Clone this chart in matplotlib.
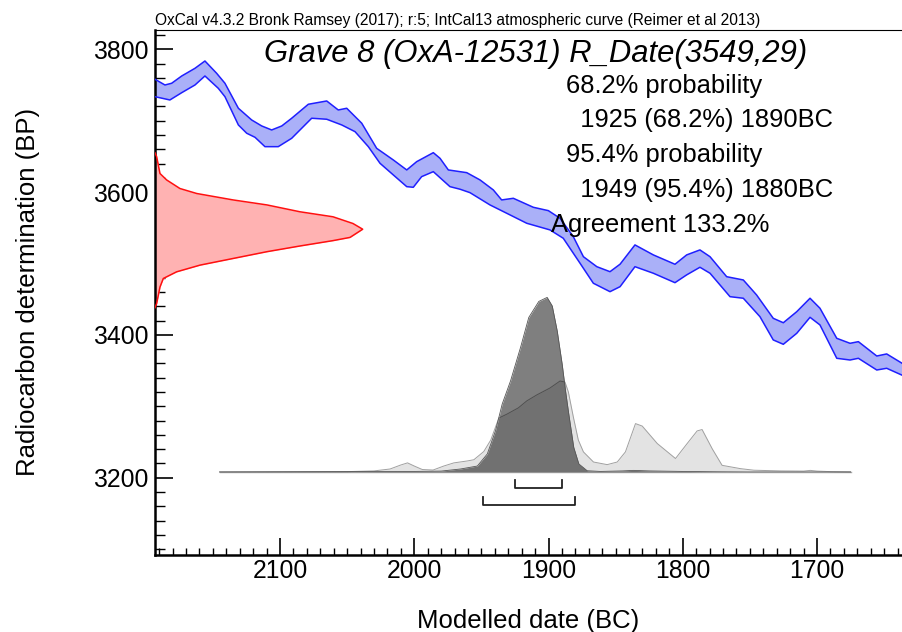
import numpy as np
import matplotlib
matplotlib.use("Agg")
import matplotlib.pyplot as plt
from matplotlib.ticker import MultipleLocator

plt.rcParams['font.family'] = ['Liberation Sans', 'DejaVu Sans']

# calibration curve (IntCal13): upper and lower edge of the band, year BC vs. BP
up_year = [2193.1, 2185.7, 2180.7, 2173.2, 2163.3, 2155.9, 2147.2, 2141, 2131, 2121.1,
           2113.6, 2106.2, 2098.7, 2091.3, 2078.9, 2065.2, 2056.6, 2050.3, 2039.1, 2028,
           2015.6, 2005.6, 1998.2, 1985.8, 1980.8, 1974.6, 1960.9, 1951, 1941.1, 1934.9,
           1926.2, 1911.3, 1900.1, 1891.4, 1881.5, 1874, 1864, 1854.2, 1846.7, 1835.6,
           1821.9, 1805.8, 1797.1, 1787.2, 1779.7, 1767.3, 1754.9, 1745, 1732.6, 1725.1,
           1715.1, 1705.2, 1697.8, 1685.3, 1675.4, 1669.2, 1655.5, 1648.1, 1636]
up_bp = [3758, 3750, 3752.4, 3762.6, 3773.4, 3783.6, 3766.4, 3752.4, 3717.4, 3701,
         3692.6, 3687, 3692.6, 3703.4, 3723, 3727.6, 3715, 3717.4, 3696.4, 3661.3,
         3645, 3631, 3642.6, 3655.2, 3647.3, 3631, 3627.2, 3617, 3603, 3589,
         3591.3, 3578.7, 3574, 3563.3, 3537.5, 3509.5, 3495.5, 3488.5, 3499, 3526,
         3512, 3498.9, 3512, 3519, 3509.5, 3481.5, 3476.9, 3455.9, 3423.2, 3417,
         3432.5, 3451.3, 3437.3, 3395.2, 3388.2, 3390.5, 3370.4, 3373.3, 3359.5]
lo_year = [2193.1, 2182, 2173.2, 2163.3, 2155.9, 2146, 2141, 2131, 2124.8, 2118.6,
           2111.2, 2101.3, 2091.3, 2076.4, 2065.2, 2054, 2044.1, 2034.2, 2025.5, 2015.6,
           2005.6, 2000.7, 1994.5, 1985.8, 1973.4, 1965.9, 1958.5, 1943.6, 1931.1, 1916.2,
           1898.9, 1889, 1876.5, 1866.6, 1854.2, 1846.7, 1835.6, 1821.9, 1805.8, 1797.1,
           1787.2, 1779.7, 1764.8, 1754.9, 1742.5, 1732.6, 1725.1, 1715.1, 1705.2, 1697.8,
           1685.3, 1675.4, 1669.2, 1655.5, 1648.1, 1636]
lo_bp = [3733.6, 3729, 3739.2, 3750, 3762.6, 3745.4, 3733.6, 3694, 3682.4, 3676.7,
         3663.6, 3663.6, 3675.3, 3703.4, 3702, 3694, 3684.6, 3663.6, 3640.3, 3624,
         3607.6, 3606.7, 3621.6, 3628.6, 3607.6, 3604, 3599.2, 3582, 3570.3, 3556.3,
         3547, 3535.3, 3500.3, 3472.3, 3460.5, 3467.5, 3495.5, 3486.3, 3473.1, 3484,
         3494.7, 3486.3, 3453.5, 3451.3, 3425.5, 3392.9, 3386.8, 3402.2, 3424.6, 3413.9,
         3367.2, 3364.8, 3367.2, 3350.8, 3353.2, 3343]

# radiocarbon measurement R_Date(3549,29), relative probability
r_bp = [3655, 3649.5, 3626, 3617, 3605, 3598, 3589, 3582, 3572.4, 3565.4, 3556, 3548,
        3536.5, 3532, 3524.5, 3516.5, 3507, 3497.7, 3488.3, 3479, 3467, 3444, 3438]
r_prob = [0, .008, .024, .056, .120, .201, .376, .539, .698, .857, .953, 1.0,
          .939, .857, .698, .539, .376, .217, .104, .040, .024, .008, 0]

# unmodelled (light) and modelled (dark) calendar distributions
light_year = [2145, 2050, 2030, 2018, 2010, 2005, 2000, 1994, 1986, 1978, 1970.5, 1960.5,
              1955.6, 1948.2, 1943, 1937, 1930.8, 1922.5, 1916.2, 1908.8, 1898.9, 1891.4,
              1887.7, 1885.2, 1881.5, 1877.8, 1874, 1866.5, 1856.3, 1848.8, 1842.7, 1835.2,
              1830.2, 1819, 1805.4, 1796.7, 1789.3, 1785.6, 1778, 1770.7, 1757, 1747,
              1727, 1710, 1705, 1700, 1690, 1675]
light_prob = [0, .002, .006, .017, .040, .052, .034, .014, .011, .034, .052, .063,
              .070, .117, .183, .309, .332, .367, .407, .441, .481, .521,
              .515, .458, .315, .183, .115, .057, .042, .057, .115, .277,
              .263, .163, .077, .163, .235, .243, .132, .038, .019, .010,
              .006, .005, .009, .005, .002, 0]
dark_year = [2145, 2050, 2000, 1980, 1965.5, 1953, 1945.6, 1939.5, 1934.5, 1928.3, 1920.8,
             1914.7, 1907.2, 1901, 1897.2, 1893.5, 1889.8, 1887.3, 1884.9, 1881.2, 1877.4,
             1871.2, 1861.3, 1845, 1836.7, 1825, 1800, 1772, 1750, 1675]
dark_prob = [0, .002, .003, .005, .017, .034, .103, .235, .389, .521, .714,
             .885, .977, 1.0, .951, .808, .617, .464, .332, .141, .046,
             .007, .003, .006, .009, .006, .003, .001, 0, 0]

# highest probability ranges (BC)
range68 = [1925, 1890]
range95 = [1949, 1880]

header = "OxCal v4.3.2 Bronk Ramsey (2017); r:5; IntCal13 atmospheric curve (Reimer et al 2013)"
title = "Grave 8 (OxA-12531) R_Date(3549,29)"
info = ["68.2% probability", "  1925 (68.2%) 1890BC", "95.4% probability",
        "  1949 (95.4%) 1880BC", "Agreement 133.2%"]

W, H = 902, 632
fig = plt.figure(figsize=(W / 100, H / 100), dpi=100)
ax = fig.add_axes([155 / W, (H - 555) / H, (W - 155) / W, (555 - 30) / H])

xl = (2193.1, 1636.7)
ax.set_xlim(*xl)
ax.set_ylim(3091.7, 3827)

# calibration curve
ax.fill(up_year + lo_year[::-1], up_bp + lo_bp[::-1], color='#aab0f8', lw=0, zorder=2)
ax.plot(up_year, up_bp, color='#1f1fff', lw=1.1, zorder=3, solid_joinstyle='round')
ax.plot(lo_year, lo_bp, color='#1f1fff', lw=1.1, zorder=3, solid_joinstyle='round')

# radiocarbon date on the y axis
r_x = xl[0] - np.array(r_prob) * 154.7
ax.fill_betweenx(r_bp, xl[0], r_x, color='#ffb2b2', lw=0, zorder=2)
ax.plot(r_x, r_bp, color='#ff1010', lw=1.1, zorder=3)

# calendar distributions
base = 3208
gscale = 244.5
ax.plot([2145, 1675], [base, base], color='#a8a8a8', lw=1.0, zorder=2)
ly = base + np.array(light_prob) * gscale
ax.fill_between(light_year, base, ly, color='#e3e3e3', lw=0, zorder=2)
ax.plot(light_year, ly, color='#a0a0a0', lw=0.7, zorder=2)
dy = base + np.array(dark_prob) * gscale
ax.fill_between(dark_year, base, dy, color='black', alpha=0.5, lw=0, zorder=3)
ax.plot(dark_year, dy, color='#555555', lw=0.6, zorder=3)

# range brackets
for rng, yb, yt in [(range68, 3185, 3197), (range95, 3162, 3173)]:
    ax.plot([rng[0], rng[0], rng[1], rng[1]], [yt, yb, yb, yt], color='#222222', lw=1.3, zorder=4)

ax.xaxis.set_major_locator(MultipleLocator(100))
ax.xaxis.set_minor_locator(MultipleLocator(10))
ax.yaxis.set_major_locator(MultipleLocator(200))
ax.yaxis.set_minor_locator(MultipleLocator(20))
ax.tick_params(axis='x', which='major', direction='in', length=12, width=1.2,
               labelsize=17.8, pad=3)
ax.tick_params(axis='x', which='minor', direction='in', length=5, width=1)
ax.tick_params(axis='y', which='major', direction='in', length=13, width=1.2,
               labelsize=17.8, pad=5)
ax.tick_params(axis='y', which='minor', direction='in', length=7, width=1)

ax.spines['right'].set_visible(False)
ax.spines['left'].set_linewidth(1.8)
ax.spines['bottom'].set_linewidth(1.8)
ax.spines['top'].set_linewidth(0.8)

fig.text(528.5 / W, 1 - 628 / H, "Modelled date (BC)", fontsize=18.5, ha='center', va='baseline')
fig.text(28 / W, 1 - 292 / H, "Radiocarbon determination (BP)", fontsize=18.5,
         rotation=90, ha='center', va='center')

fig.text(155 / W, 1 - 25 / H, header, fontsize=11.2, ha='left', va='baseline')
fig.text(536 / W, 1 - 62 / H, title, fontsize=22.3, style='italic', ha='center', va='baseline')
for s, xp, yp in zip(info, [566, 566, 566, 566, 551], [93, 127, 162, 197, 232]):
    fig.text(xp / W, 1 - yp / H, s, fontsize=18.4, ha='left', va='baseline')

fig.savefig("out.png", dpi=100)
